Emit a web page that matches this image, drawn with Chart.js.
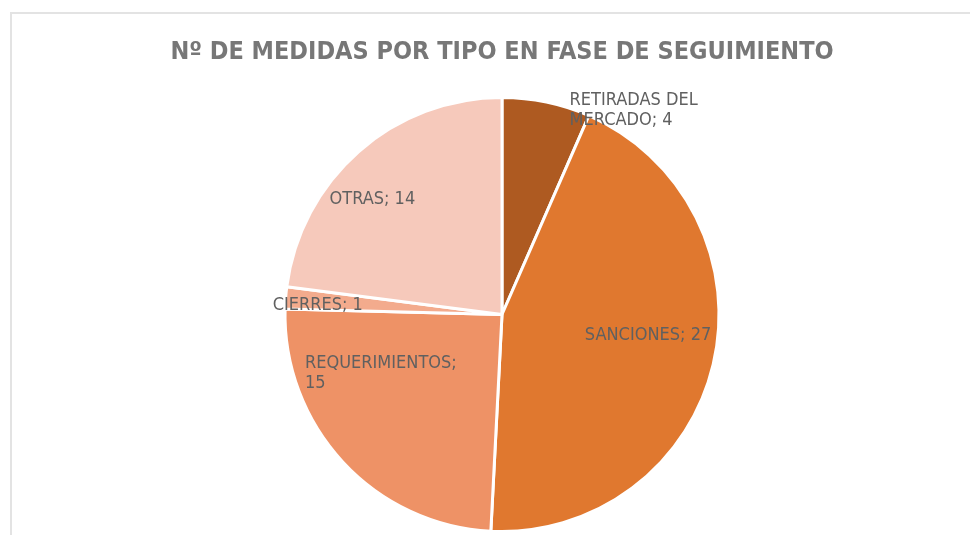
<!DOCTYPE html>
<html>
<head>
<meta charset="utf-8">
<script src="https://cdn.jsdelivr.net/npm/chart.js@4/dist/chart.umd.min.js"></script>
<style>
  html, body { margin: 0; padding: 0; background: #fff; }
  #frame {
    position: absolute; left: 10px; top: 12px;
    width: 1000px; height: 600px;
    border: 2px solid #e3e3e3;
  }
  #wrap { position: absolute; left: 0; top: 0; width: 970px; height: 535px; }
</style>
</head>
<body>
<div id="frame"></div>
<div id="wrap"><canvas id="myChart" width="970" height="535"></canvas></div>
<script>
var categories = ['RETIRADAS DEL MERCADO', 'SANCIONES', 'REQUERIMIENTOS', 'CIERRES', 'OTRAS']
var values = [4, 27, 15, 1, 14]
var sliceColors = ['#ae5a21', '#e0782f', '#ee9266', '#f3ab8d', '#f6c9bb']

// where each label sits: angle shift from the slice middle (deg), fraction of radius, wrap width
var labelPlace = [
  { shift: 21, dist: 1.12, wrap: 135 },
  { shift: -5, dist: 0.68, wrap: 160 },
  { shift: 17, dist: 0.62, wrap: 160 },
  { shift: -1.5, dist: 0.85, wrap: 160 },
  { shift: -7, dist: 0.80, wrap: 160 }
]

function wrapText(ctx, text, maxW) {
  var words = text.split(' ')
  var lines = []
  var line = ''
  words.forEach(w => {
    var test = line ? line + ' ' + w : w
    if (line && ctx.measureText(test).width > maxW) {
      lines.push(line)
      line = w
    } else {
      line = test
    }
  })
  lines.push(line)
  return lines
}

var sliceLabels = {
  id: 'sliceLabels',
  afterDatasetsDraw(chart) {
    var ctx = chart.ctx
    var meta = chart.getDatasetMeta(0)
    ctx.save()
    ctx.font = '18px "Liberation Sans Narrow", "DejaVu Sans Condensed", sans-serif'
    ctx.fillStyle = '#606060'
    ctx.textBaseline = 'middle'
    ctx.textAlign = 'left'
    meta.data.forEach((arc, i) => {
      var p = labelPlace[i]
      var mid = (arc.startAngle + arc.endAngle) / 2 + p.shift * Math.PI / 180
      var cx = arc.x + Math.cos(mid) * arc.outerRadius * p.dist
      var cy = arc.y + Math.sin(mid) * arc.outerRadius * p.dist
      var lines = wrapText(ctx, categories[i] + '; ' + values[i], p.wrap)
      var maxW = 0
      lines.forEach(l => { maxW = Math.max(maxW, ctx.measureText(l).width) })
      var lh = 20
      var y0 = cy - (lines.length - 1) * lh / 2
      lines.forEach((l, k) => {
        ctx.fillText(l, cx - maxW / 2, y0 + k * lh)
      })
    })
    ctx.restore()
  }
}

var ctx = document.getElementById('myChart').getContext('2d')
var chart = new Chart(ctx, {
  type: 'pie',
  data: {
    labels: categories,
    datasets: [{
      data: values,
      backgroundColor: sliceColors,
      borderColor: '#ffffff',
      borderWidth: 3
    }]
  },
  options: {
    responsive: false,
    animation: false,
    layout: { padding: { left: 50, right: 16, top: 0, bottom: 2 } },
    plugins: {
      legend: { display: false },
      tooltip: { enabled: false },
      title: {
        display: true,
        text: 'Nº DE MEDIDAS POR TIPO EN FASE DE SEGUIMIENTO',
        color: '#777777',
        font: { family: '"Liberation Sans Narrow", "DejaVu Sans Condensed", sans-serif', size: 25, weight: 'bold', lineHeight: 1.2 },
        padding: { top: 37, bottom: 29 }
      }
    }
  },
  plugins: [sliceLabels]
})
</script>
</body>
</html>
